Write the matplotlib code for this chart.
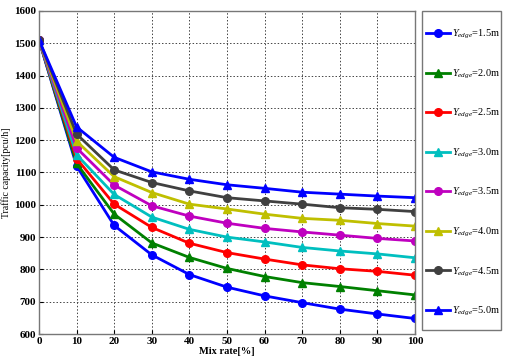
import matplotlib
matplotlib.use("Agg")
import matplotlib.pyplot as plt
from matplotlib.patches import Rectangle

mix_rate = [0, 10, 20, 30, 40, 50, 60, 70, 80, 90, 100]
labels = ["1.5m", "2.0m", "2.5m", "3.0m", "3.5m", "4.0m", "4.5m", "5.0m"]
y_15 = [1510, 1120, 936, 845, 784, 745, 718, 697, 677, 662, 648]
y_20 = [1510, 1128, 971, 882, 837, 803, 778, 759, 747, 734, 721]
y_25 = [1510, 1143, 1002, 930, 881, 852, 832, 814, 802, 794, 782]
y_30 = [1510, 1155, 1032, 962, 924, 900, 885, 868, 857, 848, 836]
y_35 = [1510, 1176, 1061, 997, 965, 943, 927, 916, 906, 896, 888]
y_40 = [1510, 1197, 1087, 1038, 1002, 987, 971, 958, 952, 942, 934]
y_45 = [1510, 1219, 1108, 1069, 1043, 1022, 1012, 1002, 991, 986, 979]
y_50 = [1510, 1241, 1147, 1102, 1079, 1062, 1051, 1039, 1033, 1027, 1022]
series = [y_15, y_20, y_25, y_30, y_35, y_40, y_45, y_50]

colors = ["#0000FF", "#008000", "#FF0000", "#00BFBF", "#BF00BF", "#BFBF00", "#404040", "#0000FF"]
markers = ["o", "^", "o", "^", "o", "^", "o", "^"]

plt.rcParams["font.family"] = ["Liberation Serif", "DejaVu Serif"]
plt.rcParams["mathtext.fontset"] = "custom"
plt.rcParams["mathtext.it"] = "Liberation Serif:italic"
plt.rcParams["mathtext.rm"] = "Liberation Serif"

fig = plt.figure(figsize=(5.1, 3.6), dpi=100)
ax = fig.add_axes([39/510, 26/360, 376/510, 323/360])

handles = []
for ys, c, m, lab in zip(series, colors, markers, labels):
    h, = ax.plot(mix_rate, ys, color=c, marker=m, markersize=5.5, linewidth=2.0,
                 label=r"$Y_{edge}$=" + lab)
    handles.append(h)

ax.set_xlim(0, 100)
ax.set_ylim(600, 1600)
ax.set_xticks(mix_rate)
ax.set_yticks(range(600, 1601, 100))
ax.grid(True, linestyle=(0, (1.5, 2)), color="#444444", linewidth=0.7)
ax.tick_params(direction="in", length=3, labelsize=8, pad=2)
for t in ax.get_xticklabels() + ax.get_yticklabels():
    t.set_fontweight("bold")
for s in ax.spines.values():
    s.set_color("#777777")
    s.set_linewidth(1.0)
ax.set_xlabel("Mix rate[%]", fontsize=7.5, fontweight="bold", labelpad=1)
ax.set_ylabel("Traffic capacity[pcu/h]", fontsize=7, labelpad=2)

# legend box frame
fig.patches.append(Rectangle((422/510, 30/360), 79/510, 319/360, transform=fig.transFigure,
                             facecolor="white", edgecolor="#777777", linewidth=1.0, zorder=0))

leg = fig.legend(handles=handles, loc="upper left",
                 bbox_to_anchor=(423/510, 335/360),
                 fontsize=7.5, labelspacing=2.54, handlelength=2.3, handletextpad=0.15,
                 borderaxespad=0, borderpad=0.3, frameon=False)

fig.savefig("out.png", dpi=100)
